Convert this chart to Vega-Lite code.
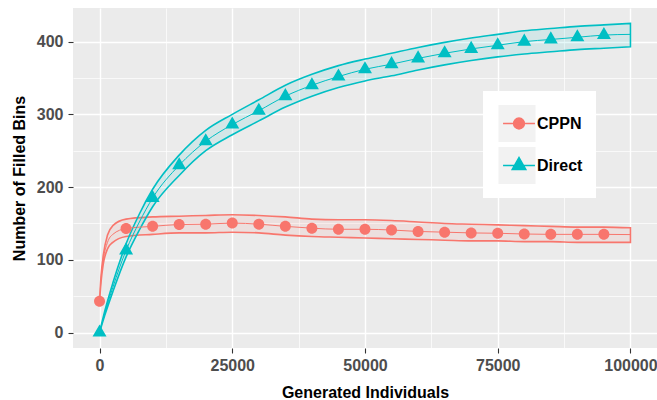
{
  "$schema": "https://vega.github.io/schema/vega-lite/v6.json",
  "width": 584,
  "height": 340,
  "autosize": "none",
  "padding": {"left": 73, "top": 8, "right": 0, "bottom": 52},
  "background": "white",
  "config": {
    "font": "Liberation Sans",
    "view": {"fill": "#EBEBEB", "stroke": null},
    "axis": {
      "domain": false,
      "gridColor": "white",
      "tickColor": "#333333",
      "tickWidth": 1.1,
      "tickSize": 5,
      "labelFont": "Liberation Sans",
      "labelFontSize": 16,
      "labelFontWeight": "bold",
      "labelColor": "#4D4D4D",
      "labelFlush": false,
      "labelOverlap": false,
      "titleFont": "Liberation Sans",
      "titleFontSize": 16,
      "titleFontWeight": "bold",
      "titleColor": "black"
    }
  },
  "data": {
    "values": [
      {"series": "CPPN", "x": 0, "m": 43, "lo": 43, "hi": 43},
      {"series": "CPPN", "x": 300, "m": 75, "lo": 71, "hi": 79},
      {"series": "CPPN", "x": 700, "m": 100, "lo": 94, "hi": 106},
      {"series": "CPPN", "x": 1500, "m": 124, "lo": 115, "hi": 134},
      {"series": "CPPN", "x": 2500, "m": 135, "lo": 124, "hi": 147},
      {"series": "CPPN", "x": 5000, "m": 143, "lo": 132, "hi": 156},
      {"series": "CPPN", "x": 10000, "m": 146, "lo": 135, "hi": 159},
      {"series": "CPPN", "x": 15000, "m": 148.5, "lo": 137, "hi": 160},
      {"series": "CPPN", "x": 20000, "m": 149, "lo": 137, "hi": 161},
      {"series": "CPPN", "x": 25000, "m": 150.5, "lo": 138, "hi": 162},
      {"series": "CPPN", "x": 30000, "m": 149, "lo": 137, "hi": 161},
      {"series": "CPPN", "x": 35000, "m": 146, "lo": 134, "hi": 159},
      {"series": "CPPN", "x": 40000, "m": 143.5, "lo": 132, "hi": 156},
      {"series": "CPPN", "x": 45000, "m": 142, "lo": 131, "hi": 155},
      {"series": "CPPN", "x": 50000, "m": 142, "lo": 130, "hi": 155},
      {"series": "CPPN", "x": 55000, "m": 141, "lo": 129, "hi": 154},
      {"series": "CPPN", "x": 60000, "m": 139, "lo": 128, "hi": 152},
      {"series": "CPPN", "x": 65000, "m": 138, "lo": 127, "hi": 150},
      {"series": "CPPN", "x": 70000, "m": 137, "lo": 126, "hi": 149},
      {"series": "CPPN", "x": 75000, "m": 136.5, "lo": 126, "hi": 148},
      {"series": "CPPN", "x": 80000, "m": 135.5, "lo": 125, "hi": 147},
      {"series": "CPPN", "x": 85000, "m": 135, "lo": 125, "hi": 146},
      {"series": "CPPN", "x": 90000, "m": 135, "lo": 124, "hi": 145},
      {"series": "CPPN", "x": 95000, "m": 135, "lo": 124, "hi": 145},
      {"series": "CPPN", "x": 100000, "m": 134.7, "lo": 124, "hi": 144},
      {"series": "Direct", "x": 0, "m": 0, "lo": 0, "hi": 0},
      {"series": "Direct", "x": 1000, "m": 27, "lo": 24, "hi": 30},
      {"series": "Direct", "x": 2500, "m": 62, "lo": 56, "hi": 68},
      {"series": "Direct", "x": 5000, "m": 113, "lo": 104, "hi": 122},
      {"series": "Direct", "x": 7500, "m": 152, "lo": 141, "hi": 163},
      {"series": "Direct", "x": 10000, "m": 185, "lo": 173, "hi": 197},
      {"series": "Direct", "x": 15000, "m": 230, "lo": 216, "hi": 244},
      {"series": "Direct", "x": 20000, "m": 263, "lo": 250, "hi": 278},
      {"series": "Direct", "x": 25000, "m": 286, "lo": 272, "hi": 300},
      {"series": "Direct", "x": 30000, "m": 305, "lo": 291, "hi": 320},
      {"series": "Direct", "x": 35000, "m": 325, "lo": 310, "hi": 340},
      {"series": "Direct", "x": 40000, "m": 340, "lo": 325, "hi": 355},
      {"series": "Direct", "x": 45000, "m": 352, "lo": 337, "hi": 367},
      {"series": "Direct", "x": 50000, "m": 362, "lo": 346, "hi": 376},
      {"series": "Direct", "x": 55000, "m": 369, "lo": 353, "hi": 384},
      {"series": "Direct", "x": 60000, "m": 377, "lo": 361, "hi": 392},
      {"series": "Direct", "x": 65000, "m": 384, "lo": 368, "hi": 399},
      {"series": "Direct", "x": 70000, "m": 390, "lo": 374, "hi": 405},
      {"series": "Direct", "x": 75000, "m": 395, "lo": 379, "hi": 410},
      {"series": "Direct", "x": 80000, "m": 400, "lo": 383, "hi": 415},
      {"series": "Direct", "x": 85000, "m": 403, "lo": 386, "hi": 418},
      {"series": "Direct", "x": 90000, "m": 406, "lo": 389, "hi": 421},
      {"series": "Direct", "x": 95000, "m": 409, "lo": 391, "hi": 423},
      {"series": "Direct", "x": 100000, "m": 410, "lo": 393, "hi": 425}
    ]
  },
  "resolve": {"axis": {"x": "independent", "y": "independent"}},
  "layer": [
    {
      "mark": {"type": "area", "fillOpacity": 0.1, "strokeWidth": 1.6, "interpolate": "monotone"},
      "encoding": {
        "x": {"field": "x", "type": "quantitative",
          "scale": {"domain": [-5000, 105000], "nice": false, "zero": false},
          "axis": {"orient": "bottom", "values": [12500, 37500, 62500, 87500], "grid": true, "gridWidth": 0.7, "labels": false, "ticks": false, "title": null}},
        "y": {"field": "lo", "type": "quantitative",
          "scale": {"domain": [-21.25, 446.25], "nice": false, "zero": false},
          "axis": {"orient": "left", "values": [50, 150, 250, 350], "grid": true, "gridWidth": 0.7, "labels": false, "ticks": false, "title": null}},
        "y2": {"field": "hi"},
        "color": {"field": "series", "type": "nominal",
          "scale": {"domain": ["CPPN", "Direct"], "range": ["#F8766D", "#00BFC4"]},
          "legend": {
            "orient": "none", "legendX": 410, "legendY": 83, "zindex": 2,
            "title": null, "fillColor": null, "padding": 14, "rowPadding": 5,
            "clipHeight": 37,
            "symbolSize": 121, "symbolStrokeWidth": 1.3, "symbolOffset": 14,
            "labelFontSize": 16, "labelFontWeight": "bold", "labelColor": "black", "labelOffset": 10,
            "encode": {
              "symbols": {"update": {
                "stroke": {"scale": "color", "field": "value"},
                "strokeWidth": {"value": 1.3},
                "opacity": {"value": 1}
              }}
            }
          }},
        "stroke": {"field": "series", "type": "nominal",
          "scale": {"domain": ["CPPN", "Direct"], "range": ["#F8766D", "#00BFC4"]},
          "legend": null}
      }
    },
    {
      "mark": {"type": "line", "strokeWidth": 1, "interpolate": "monotone"},
      "encoding": {
        "x": {"field": "x", "type": "quantitative",
          "axis": {"orient": "bottom", "values": [0, 25000, 50000, 75000, 100000], "format": "d", "grid": true, "gridWidth": 1.4, "labelPadding": 4, "title": "Generated Individuals", "titlePadding": 11}},
        "y": {"field": "m", "type": "quantitative",
          "axis": {"orient": "left", "values": [0, 100, 200, 300, 400], "format": "d", "grid": true, "gridWidth": 1.4, "labelPadding": 5, "title": "Number of Filled Bins", "titlePadding": 9}},
        "color": {"field": "series", "type": "nominal"}
      }
    },
    {
      "transform": [{"filter": "datum.x % 5000 == 0 && datum.x < 100000"}],
      "mark": {"type": "point", "filled": true, "size": 121},
      "encoding": {
        "x": {"field": "x", "type": "quantitative", "axis": null},
        "y": {"field": "m", "type": "quantitative", "axis": null},
        "color": {"field": "series", "type": "nominal"},
        "shape": {"field": "series", "type": "nominal",
          "scale": {"domain": ["CPPN", "Direct"], "range": ["M-2.9,0L2.9,0M1,0A1,1,0,1,1,-1,0A1,1,0,1,1,1,0Z", "M-2.9,0L2.9,0M0,-1.47L1.27,0.73L-1.27,0.73Z"]},
          "legend": null},
        "opacity": {"field": "series", "type": "ordinal",
          "scale": {"domain": ["CPPN", "Direct", "~"], "range": [1, 1, 1]},
          "legend": {
            "orient": "none", "legendX": 410, "legendY": 83, "zindex": 1,
            "values": ["CPPN", "Direct"],
            "title": null, "fillColor": "white", "padding": 14, "rowPadding": 5,
            "clipHeight": 37,
            "symbolType": "square", "symbolSize": 1369, "symbolFillColor": "#F2F2F2",
            "symbolStrokeColor": "transparent", "symbolStrokeWidth": 0, "symbolOffset": 1.5,
            "labelExpr": "''",
            "labelFontSize": 16, "labelFontWeight": "bold", "labelColor": "transparent", "labelOffset": 46
          }}
      }
    }
  ]
}
